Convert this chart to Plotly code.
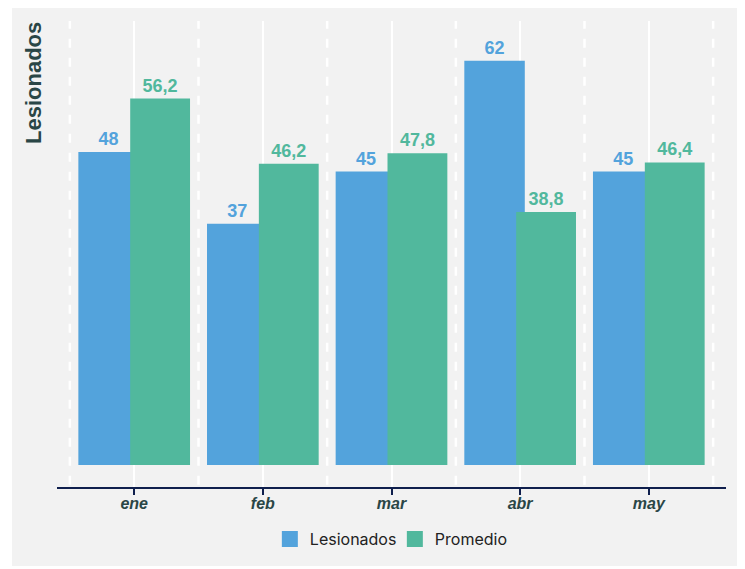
import plotly.graph_objects as go

categories = ["ene", "feb", "mar", "abr", "may"]
lesionados = [48, 37, 45, 62, 45]
promedio = [56.2, 46.2, 47.8, 38.8, 46.4]

BLUE = "#53a3dc"
GREEN = "#51b89d"
DARK = "#2a4646"
NAVY = "#0f1f4d"
BG = "#f2f2f2"


def fmt(v):
    return f"{v:g}".replace(".", ",")


fig = go.Figure()
fig.add_trace(go.Bar(
    x=categories, y=lesionados, name="Lesionados", showlegend=False,
    marker=dict(color=BLUE, line=dict(width=0)),
    offset=-0.434, width=0.47,
    text=[fmt(v) for v in lesionados], textposition="outside",
    textfont=dict(family="Liberation Sans", size=18, color=BLUE, weight="bold"),
    cliponaxis=False,
))
fig.add_trace(go.Bar(
    x=categories, y=promedio, name="Promedio", showlegend=False,
    marker=dict(color=GREEN, line=dict(width=0)),
    offset=-0.031, width=0.465,
    text=[fmt(v) for v in promedio], textposition="outside",
    textfont=dict(family="Liberation Sans", size=18, color=GREEN, weight="bold"),
    cliponaxis=False,
))
for name, color in [("Lesionados", BLUE), ("Promedio", GREEN)]:
    fig.add_trace(go.Scatter(
        x=[None], y=[None], mode="markers", name=name,
        marker=dict(symbol="square", size=18, color=color),
    ))

shapes = [dict(type="rect", xref="paper", yref="paper",
               x0=-0.0673, x1=1.021, y0=-0.1695, y1=1.028,
               fillcolor=BG, line=dict(width=0), layer="below")]
for i in range(len(categories) + 1):
    shapes.append(dict(type="line", xref="x", yref="paper",
                       x0=i - 0.5, x1=i - 0.5, y0=0.005, y1=1,
                       line=dict(color="white", width=2.5, dash="9px,10px"),
                       layer="below"))

fig.update_layout(
    width=745, height=569,
    margin=dict(l=49, r=27, t=13, b=90),
    paper_bgcolor="white",
    plot_bgcolor="rgba(0,0,0,0)",
    barmode="overlay",
    shapes=shapes,
    showlegend=True,
    legend=dict(orientation="h", x=0.505, xanchor="center", y=-0.112,
                yanchor="middle", itemsizing="trace",
                entrywidth=80, entrywidthmode="pixels",
                font=dict(family="Inter", size=16, color="#222222"),
                bgcolor="rgba(0,0,0,0)"),
    xaxis=dict(range=[-0.6, 4.6], showgrid=True, gridcolor="white",
               gridwidth=2, showline=True, linecolor=NAVY, linewidth=2,
               ticks="outside", ticklen=6, tickcolor=NAVY, tickwidth=2,
               ticklabelstandoff=-5,
               tickfont=dict(family="Liberation Sans", size=16, color=DARK,
                             style="italic", weight="bold"),
               zeroline=False),
    yaxis=dict(range=[-3.38, 68.1], showgrid=False, showticklabels=False,
               zeroline=False, showline=False),
    annotations=[dict(text="<b>Lesionados</b>", textangle=-90,
                      xref="paper", yref="paper", x=-0.036, y=1.002,
                      xanchor="center", yanchor="top", showarrow=False,
                      font=dict(family="Liberation Sans", size=22, color=DARK))],
)

fig.write_html("out.html")
